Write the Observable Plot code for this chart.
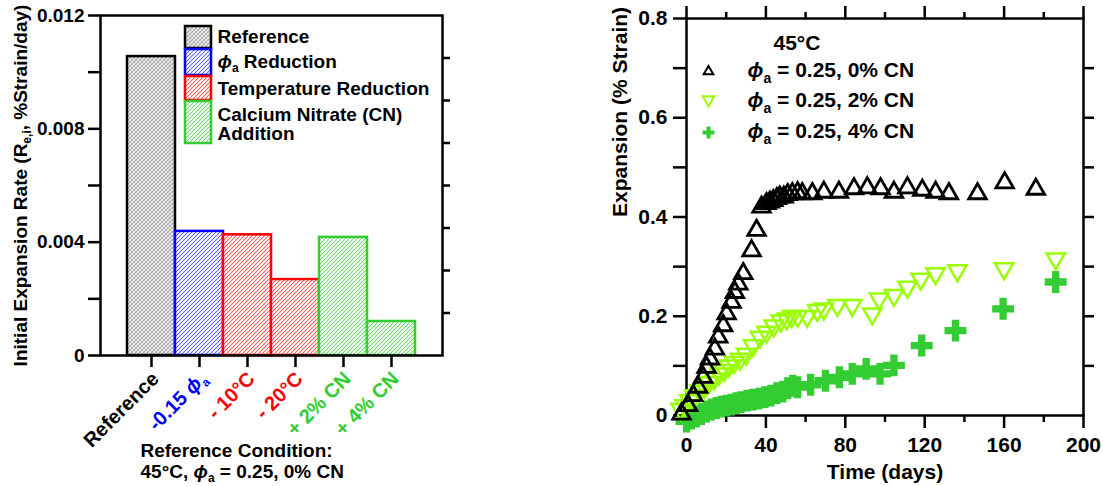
<!DOCTYPE html>
<html><head><meta charset="utf-8">
<script src="https://cdn.jsdelivr.net/npm/d3@7"></script>
<script src="https://cdn.jsdelivr.net/npm/@observablehq/plot@0.6"></script>
<style>
body{margin:0;background:#fff;}
#wrap{position:relative;width:1103px;height:486px;overflow:hidden;background:#fff;}
#left{position:absolute;left:0;top:0;}
#right{position:absolute;left:600px;top:0;}
svg{overflow:visible;}
</style></head><body><div id="wrap"><div id="left"></div><div id="right"></div></div>
<script>
// ---------- Left chart data ----------
const categories = ["Reference", "-0.15 ϕ_{a}", "- 10°C", "- 20°C", "+ 2% CN", "+ 4% CN"];
const groups = ["Reference", "Phi", "Temp", "Temp", "CN", "CN"];
const rates = [0.01055, 0.00438, 0.00426, 0.00268, 0.00417, 0.00120];
const yTicksLeft = [0, 0.004, 0.008, 0.012];
const yMinorLeft = [0.002, 0.006, 0.010];
const legendGroups = ["Reference", "Phi", "Temp", "CN"];
const legendLines = ["Reference", "ϕ_{a} Reduction", "Temperature Reduction", "Calcium Nitrate (CN)", "Addition"];
const captionLines = ["Reference Condition:", "45°C, ϕ_{a} = 0.25, 0% CN"];
const yLabelLeft = "Initial Expansion Rate (R_{e,i}, %Strain/day)";

// ---------- Right chart data ----------
const days0 = [-2.5, 0.8, 3.4, 5.9, 8.4, 10.1, 11.8, 14.3, 16.0, 18.5, 20.2, 22.7, 24.4, 26.1, 28.6, 32.8, 35.3, 37.8, 40.3, 42, 43.7, 45.5, 47, 49, 51, 53.3, 56, 58.3, 63.4, 69.2, 76.8, 84.4, 91.1, 97.8, 104.5, 111.3, 118.8, 125.5, 132.2, 146.6, 160.3, 176];
const exp0 = [0.003, 0.02, 0.04, 0.057, 0.077, 0.097, 0.114, 0.134, 0.158, 0.181, 0.205, 0.228, 0.248, 0.265, 0.286, 0.332, 0.373, 0.420, 0.427, 0.430, 0.433, 0.437, 0.44, 0.44, 0.445, 0.447, 0.449, 0.447, 0.447, 0.450, 0.450, 0.457, 0.459, 0.457, 0.450, 0.459, 0.454, 0.450, 0.447, 0.447, 0.469, 0.456];
const days2 = [-3, -1, 1.5, 4, 6.5, 9, 11.5, 14, 16.5, 19, 21.5, 24, 27, 30, 33.5, 37, 40.3, 44, 47.5, 50.5, 53, 56, 60.8, 65.9, 69.2, 76, 83.5, 93.6, 97, 104.5, 111.3, 118, 125.5, 136.5, 160, 186];
const exp2 = [0.013, 0.02, 0.03, 0.04, 0.05, 0.057, 0.067, 0.074, 0.084, 0.091, 0.1, 0.107, 0.114, 0.124, 0.141, 0.158, 0.168, 0.181, 0.191, 0.195, 0.2, 0.2, 0.2, 0.212, 0.215, 0.222, 0.222, 0.205, 0.235, 0.242, 0.259, 0.275, 0.286, 0.292, 0.296, 0.316];
const days4 = [0, 2.5, 5, 7.5, 10, 12.5, 15, 17.5, 20, 22.5, 25, 27.5, 30.5, 33.5, 36.5, 39.5, 42.5, 45.5, 48.5, 51, 53.5, 56, 62.5, 70, 77, 83.5, 90.5, 97.5, 104.5, 118.5, 135.5, 159.5, 186];
const exp4 = [-0.012, -0.006, -0.002, 0.003, 0.008, 0.012, 0.015, 0.018, 0.02, 0.022, 0.025, 0.027, 0.03, 0.032, 0.034, 0.037, 0.04, 0.045, 0.048, 0.055, 0.06, 0.057, 0.062, 0.07, 0.077, 0.084, 0.094, 0.084, 0.101, 0.141, 0.171, 0.215, 0.269];
const xTicksRight = [0, 40, 80, 120, 160, 200];
const xMinorRight = [20, 60, 100, 140, 180];
const yTicksRight = [0, 0.2, 0.4, 0.6, 0.8];
const yMinorRight = [0.1, 0.3, 0.5, 0.7];
const seriesLabels = ["ϕ_{a} = 0.25, 0% CN", "ϕ_{a} = 0.25, 2% CN", "ϕ_{a} = 0.25, 4% CN"];

// ---------- styles ----------
const strokeOf = {Reference: "#000000", Phi: "#0000ff", Temp: "#ff0000", CN: "#33cc33"};
const fillOf = {Reference: "url(#pRef)", Phi: "url(#pPhi)", Temp: "url(#pTemp)", CN: "url(#pCN)"};
const baseFont = {fontFamily: "'Liberation Sans', Arial, sans-serif", fontWeight: "bold", color: "black", background: "white", overflow: "visible"};

const sqrt3 = Math.sqrt(3);
const triangleDown = {
  draw(context, size) {
    const y = -Math.sqrt(size / (sqrt3 * 3));
    context.moveTo(0, -y * 2);
    context.lineTo(-sqrt3 * y, y);
    context.lineTo(sqrt3 * y, y);
    context.closePath();
  }
};

function richify(root, subSize, shift) {
  root.querySelectorAll("text").forEach(t => {
    if (t.querySelector("tspan")) return;
    const s = t.textContent;
    if (!s.includes("_{") && !s.includes("ϕ")) return;
    t.textContent = "";
    const parts = s.split(/(_\{[^}]*\}|ϕ)/).filter(p => p !== "");
    let shifted = false;
    for (const p of parts) {
      const ts = document.createElementNS("http://www.w3.org/2000/svg", "tspan");
      if (p.startsWith("_{")) {
        ts.textContent = p.slice(2, -1);
        ts.setAttribute("font-size", subSize + "px");
        ts.setAttribute("dy", String(shift));
        shifted = true;
      } else {
        ts.textContent = p;
        if (shifted) { ts.setAttribute("dy", String(-shift)); shifted = false; }
        if (p === "ϕ") ts.setAttribute("font-style", "italic");
      }
      t.appendChild(ts);
    }
  });
}

function thickenTicks(svg, w) {
  d3.select(svg).selectAll("g[aria-label$='tick']").attr("stroke-width", w)
    .selectAll("path,line").attr("stroke-width", w);
}

function addPatterns(svg) {
  const defs = d3.select(svg).insert("defs", ":first-child");
  const mk = (id, bg, c1, c2) => {
    const p = defs.append("pattern").attr("id", id).attr("patternUnits", "userSpaceOnUse").attr("width", 4).attr("height", 4);
    p.append("rect").attr("width", 4).attr("height", 4).attr("fill", bg);
    p.append("path").attr("d", "M-1,1L1,-1M0,4L4,0M3,5L5,3").attr("stroke", c1).attr("stroke-width", 1.0);
    p.append("path").attr("d", "M-1,3L1,5M0,0L4,4M3,-1L5,1").attr("stroke", c2).attr("stroke-width", 0.8);
  };
  mk("pRef", "#e8e8e8", "#a4a4a4", "#bcbcbc");
  mk("pPhi", "#ffffff", "#5a5aff", "#c8c8ff");
  mk("pTemp", "#ffffff", "#ff5a5a", "#ffc8c8");
  mk("pCN", "#ffffff", "#70d870", "#cdeecd");
}

// ---------- Left chart ----------
const bars = categories.map((c, i) => ({cat: c, value: rates[i], group: groups[i]}));
const left = Plot.plot({
  width: 450, height: 486,
  marginLeft: 100, marginRight: 8, marginTop: 15, marginBottom: 131,
  style: {...baseFont, fontSize: "19px"},
  x: {domain: categories, paddingInner: 0, paddingOuter: 0.5, label: null},
  y: {domain: [0, 0.012], label: null},
  color: {type: "identity"},
  marks: [
    Plot.barY(bars, {x: "cat", y: "value", fill: d => fillOf[d.group], stroke: d => strokeOf[d.group], strokeWidth: 2.5}),
    Plot.frame({strokeWidth: 2.5}),
    Plot.axisY({ticks: yTicksLeft, tickSize: 12, tickPadding: 4, strokeWidth: 2.5, label: null,
      tickFormat: d => d === 0 ? "0" : d3.format(".3f")(d)}),
    Plot.axisY({ticks: yMinorLeft, tickSize: 12, strokeWidth: 2.5, label: null, tickFormat: () => ""}),
    Plot.axisY({anchor: "right", ticks: d3.range(1, 8).map(i => i * 0.0015), tickSize: 7, strokeWidth: 2.5, label: null, tickFormat: () => ""}),
    Plot.axisX({tickSize: 12, strokeWidth: 2.5, label: null, tickFormat: () => ""}),
    Plot.text(bars, {x: "cat", frameAnchor: "bottom", text: "cat", fill: d => strokeOf[d.group], rotate: -45, textAnchor: "end", lineAnchor: "middle", dy: 20, dx: 4, fontSize: 20}),
    Plot.text([yLabelLeft], {text: d => d, frameAnchor: "left", dx: -80, rotate: -90, textAnchor: "middle", lineAnchor: "middle"}),
    Plot.text([captionLines[0]], {text: d => d, frameAnchor: "bottom-left", dx: 40, dy: 95, textAnchor: "start", lineAnchor: "middle"}),
    Plot.text([captionLines[1]], {text: d => d, frameAnchor: "bottom-left", dx: 40, dy: 116, textAnchor: "start", lineAnchor: "middle"}),
    ...legendLines.map((s, i) => Plot.text([s], {text: d => d, frameAnchor: "top-left", dx: 117, dy: [21.5, 46.5, 73, 99, 118][i], textAnchor: "start", lineAnchor: "middle"}))
  ]
});
addPatterns(left);
const lg = d3.select(left).append("g");
const boxes = [[26, 22], [49, 26], [76, 24], [101, 42]];
legendGroups.forEach((g, i) => {
  lg.append("rect").attr("x", 185).attr("y", boxes[i][0]).attr("width", 26).attr("height", boxes[i][1])
    .attr("fill", fillOf[g]).attr("stroke", strokeOf[g]).attr("stroke-width", 2.5);
});
richify(left, 12, 4);
thickenTicks(left, 2.5);
document.getElementById("left").appendChild(left);

// ---------- Right chart ----------
const s0 = days0.map((d, i) => ({day: d, v: exp0[i]}));
const s2 = days2.map((d, i) => ({day: d, v: exp2[i]}));
const s4 = days4.map((d, i) => ({day: d, v: exp4[i]}));
const right = Plot.plot({
  width: 503, height: 486,
  marginLeft: 86, marginRight: 20, marginTop: 18, marginBottom: 71,
  style: {...baseFont, fontSize: "21px"},
  x: {domain: [0, 200], label: null},
  y: {domain: [0, 0.8], label: null},
  marks: [
    Plot.frame({strokeWidth: 2.5}),
    Plot.axisX({ticks: xTicksRight, tickSize: 13, tickPadding: 9, strokeWidth: 2.5, label: null, tickFormat: d => String(d)}),
    Plot.axisX({ticks: xMinorRight, tickSize: 7, strokeWidth: 2.5, label: null, tickFormat: () => ""}),
    Plot.axisX({anchor: "top", ticks: xTicksRight, tickSize: 13, strokeWidth: 2.5, label: null, tickFormat: () => ""}),
    Plot.axisX({anchor: "top", ticks: xMinorRight, tickSize: 7, strokeWidth: 2.5, label: null, tickFormat: () => ""}),
    Plot.axisY({ticks: yTicksRight, tickSize: 13, tickPadding: 6, strokeWidth: 2.5, label: null, tickFormat: d => d === 0 ? "0" : d3.format(".1f")(d)}),
    Plot.axisY({ticks: yMinorRight, tickSize: 13, strokeWidth: 2.5, label: null, tickFormat: () => ""}),
    Plot.axisY({anchor: "right", ticks: [...yMinorRight, ...yTicksRight.slice(1, 4)], tickSize: 10, strokeWidth: 2.5, label: null, tickFormat: () => ""}),
    Plot.dot(s4, {x: "day", y: "v", symbol: d3.symbolCross, r: 9.2, fill: "#33cc33", stroke: "none"}),
    Plot.dot(s2, {x: "day", y: "v", symbol: triangleDown, r: 6.8, fill: "none", stroke: "#99ff00", strokeWidth: 2.5}),
    Plot.dot(s0, {x: "day", y: "v", symbol: "triangle", r: 6.5, fill: "none", stroke: "black", strokeWidth: 2.8}),
    Plot.text(["Time (days)"], {text: d => d, frameAnchor: "bottom", dy: 57, lineAnchor: "middle"}),
    Plot.text(["Expansion (% Strain)"], {text: d => d, frameAnchor: "left", dx: -66, rotate: -90, lineAnchor: "middle"}),
    Plot.text(["45°C"], {text: d => d, frameAnchor: "top-left", dx: 87, dy: 25, textAnchor: "start", lineAnchor: "middle"}),
    Plot.dot([0], {frameAnchor: "top-left", dx: 22, dy: 53, symbol: "triangle", r: 3.6, fill: "none", stroke: "black", strokeWidth: 2}),
    Plot.dot([0], {frameAnchor: "top-left", dx: 22, dy: 81, symbol: triangleDown, r: 4.3, fill: "none", stroke: "#99ff00", strokeWidth: 2}),
    Plot.dot([0], {frameAnchor: "top-left", dx: 22, dy: 114, symbol: d3.symbolCross, r: 5, fill: "#33cc33", stroke: "none"}),
    ...seriesLabels.map((s, i) => Plot.text([s], {text: d => d, frameAnchor: "top-left", dx: 61, dy: [52, 82, 113][i], textAnchor: "start", lineAnchor: "middle"}))
  ]
});
richify(right, 14, 6);
thickenTicks(right, 2.5);
document.getElementById("right").appendChild(right);
</script>
</body></html>
